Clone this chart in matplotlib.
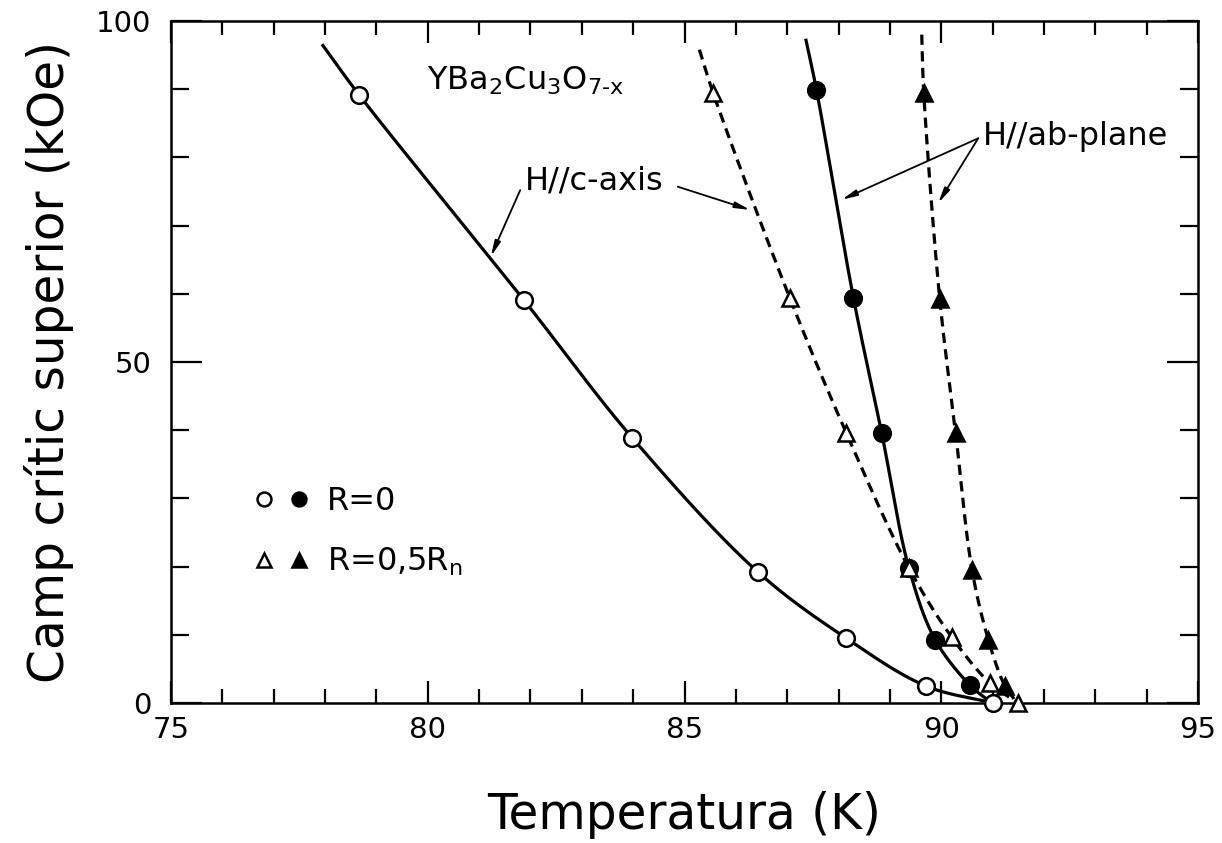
import numpy as np
import matplotlib
matplotlib.use('Agg')
import matplotlib.pyplot as plt
from matplotlib.legend_handler import HandlerTuple
from matplotlib.ticker import MultipleLocator

# ---- data ----
t_c_R0 = [78.67, 81.87, 83.98, 86.43, 88.15, 89.70, 91.01]
h_c_R0 = [89.1, 59.1, 38.9, 19.2, 9.5, 2.5, 0.0]
t_ab_R0 = [87.57, 88.29, 88.84, 89.37, 89.88, 90.56]
h_ab_R0 = [89.9, 59.4, 39.6, 19.8, 9.3, 2.6]
t_c_R5 = [85.56, 87.05, 88.15, 89.37, 90.20, 90.95, 91.50]
h_c_R5 = [89.4, 59.4, 39.6, 19.8, 9.7, 2.9, 0.0]
t_ab_R5 = [89.66, 89.97, 90.28, 90.60, 90.92, 91.24]
h_ab_R5 = [89.4, 59.3, 39.6, 19.5, 9.2, 2.5]

# guide-curve end points
top_c_R0 = (77.94, 96.6)
top_ab_R0 = (87.36, 97.4)
end_ab_R0 = (90.95, 0.2)
top_c_R5 = (85.29, 95.8)
top_ab_R5 = (89.62, 98.0)
end_ab_R5 = (91.45, 0.3)

xticks_major = [75, 80, 85, 90, 95]
yticks_major = [0, 50, 100]

SX, SY = 51.35, 6.82  # display scale used only to shape the smoothing


def smooth(xs, ys, n=40, alpha=0.5):
    """Centripetal Catmull-Rom curve through the given knots (drawing aid only)."""
    P = np.column_stack([np.asarray(xs) * SX, np.asarray(ys) * SY])
    P = np.vstack([2 * P[0] - P[1], P, 2 * P[-1] - P[-2]])
    out = []
    for i in range(1, len(P) - 2):
        p0, p1, p2, p3 = P[i - 1], P[i], P[i + 1], P[i + 2]
        t0 = 0.0
        t1 = t0 + np.linalg.norm(p1 - p0) ** alpha
        t2 = t1 + np.linalg.norm(p2 - p1) ** alpha
        t3 = t2 + np.linalg.norm(p3 - p2) ** alpha
        t = np.linspace(t1, t2, n)[:, None]
        a1 = (t1 - t) / (t1 - t0) * p0 + (t - t0) / (t1 - t0) * p1
        a2 = (t2 - t) / (t2 - t1) * p1 + (t - t1) / (t2 - t1) * p2
        a3 = (t3 - t) / (t3 - t2) * p2 + (t - t2) / (t3 - t2) * p3
        b1 = (t2 - t) / (t2 - t0) * a1 + (t - t0) / (t2 - t0) * a2
        b2 = (t3 - t) / (t3 - t1) * a2 + (t - t1) / (t3 - t1) * a3
        c = (t2 - t) / (t2 - t1) * b1 + (t - t1) / (t2 - t1) * b2
        out.append(c)
    out = np.vstack(out)
    return out[:, 0] / SX, out[:, 1] / SY


plt.rcParams['font.family'] = ['DejaVu Sans']
fig = plt.figure(figsize=(12.22, 8.43), dpi=100)
ax = fig.add_axes([171 / 1222, 1 - 703 / 843, (1198 - 171) / 1222, (703 - 21) / 843])

lw = 2.3
dash = (3.2, 2.0)
cx, cy = smooth([top_c_R0[0]] + t_c_R0, [top_c_R0[1]] + h_c_R0)
ax.plot(cx, cy, color='black', lw=lw, solid_capstyle='butt', zorder=2)
cx, cy = smooth([top_ab_R0[0]] + t_ab_R0 + [end_ab_R0[0]], [top_ab_R0[1]] + h_ab_R0 + [end_ab_R0[1]])
ax.plot(cx, cy, color='black', lw=lw, solid_capstyle='butt', zorder=2)
cx, cy = smooth([top_c_R5[0]] + t_c_R5, [top_c_R5[1]] + h_c_R5)
ax.plot(cx, cy, color='black', lw=lw, dashes=dash, zorder=2)
cx, cy = smooth([top_ab_R5[0]] + t_ab_R5 + [end_ab_R5[0]], [top_ab_R5[1]] + h_ab_R5 + [end_ab_R5[1]])
ax.plot(cx, cy, color='black', lw=lw, dashes=dash, zorder=2)

# markers
ms = 12
mew = 1.8
ax.plot(t_c_R0, h_c_R0, 'o', ms=ms, mfc='white', mec='black', mew=mew, zorder=3, clip_on=False)
ax.plot(t_ab_R0, h_ab_R0, 'o', ms=ms, mfc='black', mec='black', mew=mew, zorder=3, clip_on=False)
ax.plot(t_c_R5, h_c_R5, '^', ms=ms, mfc='white', mec='black', mew=mew, zorder=3, clip_on=False)
ax.plot(t_ab_R5, h_ab_R5, '^', ms=ms, mfc='black', mec='black', mew=mew, zorder=3, clip_on=False)

# legend
lms = 10
h1 = plt.Line2D([], [], ls='none', marker='o', ms=lms, mfc='white', mec='black', mew=1.8)
h2 = plt.Line2D([], [], ls='none', marker='o', ms=lms, mfc='black', mec='black', mew=1.8)
h3 = plt.Line2D([], [], ls='none', marker='^', ms=lms, mfc='white', mec='black', mew=1.8)
h4 = plt.Line2D([], [], ls='none', marker='^', ms=lms, mfc='black', mec='black', mew=1.8)
leg = ax.legend([(h1, h2), (h3, h4)], ['R=0', 'R=0,5R$_\\mathregular{n}$'],
                handler_map={tuple: HandlerTuple(ndivide=None, pad=0.45)},
                loc='upper left', bbox_to_anchor=(0.052, 0.36), frameon=False,
                fontsize=23, handlelength=1.75, handletextpad=0.55, labelspacing=0.9)

# annotations
fs = 23
ax.text(79.98, 91.2, 'YBa$_\\mathregular{2}$Cu$_\\mathregular{3}$O$_\\mathregular{7\u2010x}$',
        fontsize=fs, va='center', ha='left')
ax.text(81.89, 76.5, 'H//c-axis', fontsize=fs, va='center', ha='left')
ax.text(90.82, 83.0, 'H//ab-plane', fontsize=fs, va='center', ha='left')

arrow = dict(arrowstyle='-|>,head_length=0.9,head_width=0.18', color='black', lw=1.3,
             shrinkA=0, shrinkB=0)
ax.annotate('', xy=(81.23, 65.5), xytext=(81.80, 75.2), arrowprops=arrow)
ax.annotate('', xy=(86.28, 72.3), xytext=(84.87, 75.7), arrowprops=arrow)
ax.annotate('', xy=(88.06, 73.8), xytext=(90.72, 82.8), arrowprops=arrow)
ax.annotate('', xy=(89.94, 73.3), xytext=(90.72, 82.8), arrowprops=arrow)

# axes styling
ax.set_xlim(75, 95)
ax.set_ylim(0, 100)
ax.set_xticks(xticks_major)
ax.set_yticks(yticks_major)
ax.xaxis.set_minor_locator(MultipleLocator(1))
ax.yaxis.set_minor_locator(MultipleLocator(10))
ax.tick_params(which='both', direction='in', top=True, right=True, width=1.6, labelsize=21)
ax.tick_params(axis='x', which='major', length=16, pad=9)
ax.tick_params(axis='x', which='minor', length=10)
ax.tick_params(axis='y', which='major', length=22, pad=14)
ax.tick_params(axis='y', which='minor', length=13)
for s in ax.spines.values():
    s.set_linewidth(1.8)

ax.set_xlabel('Temperatura (K)', fontsize=35, labelpad=34)
ax.set_ylabel('Camp crític superior (kOe)', fontsize=35, labelpad=16)

fig.savefig('out.png', dpi=100, facecolor='white')
